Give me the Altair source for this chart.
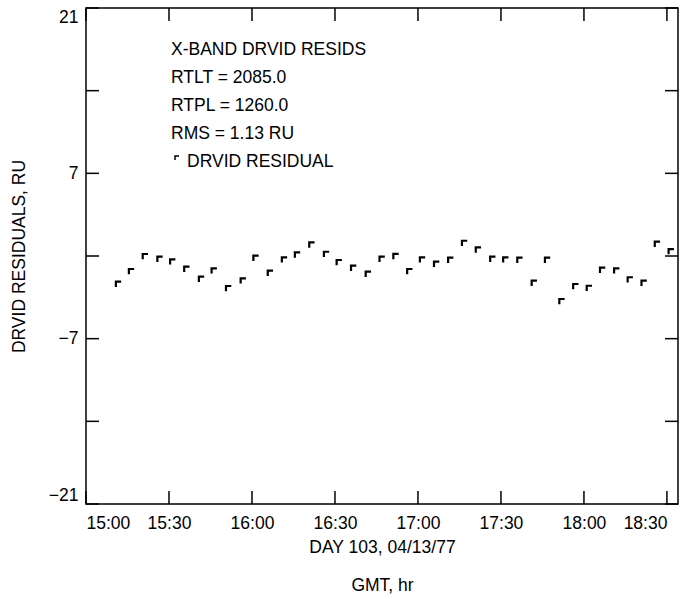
import json
import altair as alt
import pandas as pd

# ---- data ----
minutes_after_1500 = [10.8, 15.5, 20.5, 25.8, 30.4, 35.5, 40.8, 45.4, 50.6, 55.9,
                      60.5, 65.7, 70.8, 75.5, 80.7, 86.0, 90.6, 95.8, 101.1, 106.1,
                      111.1, 116.1, 120.7, 125.8, 130.9, 135.9, 140.9, 146.1, 150.8, 155.9,
                      161.1, 165.9, 171.1, 176.1, 181.0, 185.8, 190.9, 195.8, 200.8, 205.6,
                      210.6]
drvid_resid = [-2.17, -1.10, 0.17, -0.06, -0.28, -0.90, -1.75, -1.04, -2.54, -1.89,
               0.03, -1.24, -0.11, 0.31, 1.15, 0.36, -0.34, -0.82, -1.33, -0.06,
               0.18, -1.10, -0.11, -0.48, -0.14, 1.29, 0.73, -0.06, -0.11, -0.14,
               -2.09, -0.14, -3.64, -2.37, -2.52, -0.99, -1.04, -1.80, -2.09, 1.21,
               0.59]
y_tick_values = [-21, -14, -7, 0, 7, 14, 21]
y_label_values = [-21, -7, 7, 21]
x_tick_minutes = [0, 30, 60, 90, 120, 150, 180, 210]
x_tick_labels = ["15:00", "15:30", "16:00", "16:30", "17:00", "17:30", "18:00", "18:30"]
note_lines = ["X-BAND DRVID RESIDS", "RTLT = 2085.0", "RTPL = 1260.0", "RMS = 1.13 RU"]
legend_label = "DRVID RESIDUAL"
x_title = ["DAY 103, 04/13/77", "GMT, hr"]
y_title = "DRVID RESIDUALS, RU"

# ---- layout ----
W, H = 592, 496
FONT = "Liberation Sans"
FS = 17.5
TICK = 13
MARK = "M0,2L0,0L2,0"

xscale = alt.Scale(domain=[0, 214], nice=False, zero=False)
yscale = alt.Scale(domain=[-21, 21], nice=False, zero=False)

pts = pd.DataFrame({"m": minutes_after_1500, "r": drvid_resid})
yt = pd.DataFrame({"r": y_tick_values})
xt = pd.DataFrame({"m": x_tick_minutes})

label_expr = json.dumps(x_tick_labels) + "[round(datum.value / 30)]"

x_axis = alt.Axis(values=x_tick_minutes, labelExpr=label_expr, ticks=False,
                  domain=False, grid=False, labelFlush=12, labelPadding=10,
                  labelFont=FONT, labelFontSize=FS, labelColor="black",
                  title=x_title, titleFont=FONT, titleFontSize=FS,
                  titleFontWeight="normal", titleColor="black",
                  titleLineHeight=38, titlePadding=7)
y_axis = alt.Axis(values=y_label_values, ticks=False, domain=False, grid=False,
                  labelFlush=True, labelPadding=8, labelFont=FONT,
                  labelFontSize=FS, labelColor="black",
                  title=y_title, titleFont=FONT, titleFontSize=FS,
                  titleFontWeight="normal", titleColor="black",
                  titlePadding=20)

points = alt.Chart(pts).mark_point(
    shape=MARK, size=28, filled=False, stroke="black", strokeWidth=2.2, opacity=1
).encode(
    x=alt.X("m:Q", scale=xscale, axis=x_axis),
    y=alt.Y("r:Q", scale=yscale, axis=y_axis),
)

left_ticks = alt.Chart(yt).mark_rule(color="black", strokeWidth=1.5).encode(
    y=alt.Y("r:Q", scale=yscale), x=alt.value(0), x2=alt.value(TICK))
right_ticks = alt.Chart(yt).mark_rule(color="black", strokeWidth=1.5).encode(
    y=alt.Y("r:Q", scale=yscale), x=alt.value(W - TICK), x2=alt.value(W))
bottom_ticks = alt.Chart(xt).mark_rule(color="black", strokeWidth=1.5).encode(
    x=alt.X("m:Q", scale=xscale), y=alt.value(H - TICK), y2=alt.value(H))
top_ticks = alt.Chart(xt).mark_rule(color="black", strokeWidth=1.5).encode(
    x=alt.X("m:Q", scale=xscale), y=alt.value(0), y2=alt.value(TICK))

notes = []
for i, line in enumerate(note_lines):
    notes.append(
        alt.Chart(pd.DataFrame({"t": [line]})).mark_text(
            align="left", baseline="middle", font=FONT, fontSize=FS, color="black"
        ).encode(text="t:N", x=alt.value(85), y=alt.value(42 + 28 * i))
    )
notes.append(
    alt.Chart(pd.DataFrame({"t": [legend_label]})).mark_text(
        align="left", baseline="middle", font=FONT, fontSize=FS, color="black"
    ).encode(text="t:N", x=alt.value(101), y=alt.value(42 + 28 * 4))
)
legend_mark = alt.Chart(pd.DataFrame({"t": [legend_label]})).mark_point(
    shape=MARK, size=16, filled=False, stroke="black", strokeWidth=1.5, opacity=1
).encode(x=alt.value(89), y=alt.value(148))

chart = alt.layer(
    points, left_ticks, right_ticks, bottom_ticks, top_ticks, legend_mark, *notes
).properties(
    width=W, height=H,
    autosize=alt.AutoSizeParams(type="none"),
    padding={"left": 86, "top": 8, "right": 5, "bottom": 95},
    background="white",
).configure_view(stroke="black", strokeWidth=1.5)

chart.save("out.html", embed_options={"renderer": "svg", "actions": False})
